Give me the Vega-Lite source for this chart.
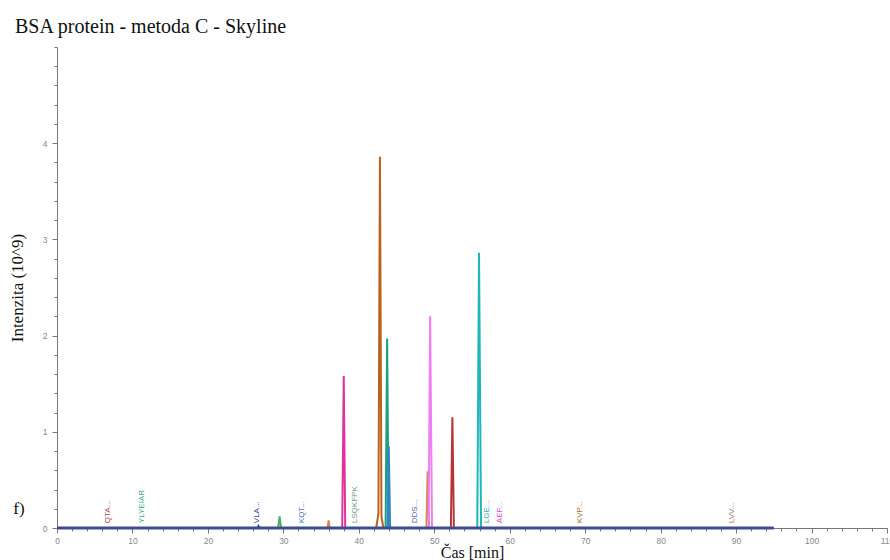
{
  "$schema": "https://vega.github.io/schema/vega-lite/v6.json",
  "width": 830,
  "height": 481,
  "autosize": "none",
  "padding": {"left": 57, "top": 47, "right": 3, "bottom": 32},
  "background": "white",
  "title": {
    "text": "BSA protein - metoda C - Skyline",
    "anchor": "start",
    "frame": "group",
    "font": "Liberation Serif",
    "fontSize": 20,
    "fontWeight": "normal",
    "color": "#111",
    "dx": -42,
    "offset": 10
  },
  "config": {
    "view": {"stroke": null},
    "axis": {"grid": false, "labelFont": "Liberation Sans", "labelFontSize": 8.5, "labelColor": "#888", "domainColor": "#777", "tickColor": "#777"}
  },
  "datasets": {
    "peaks": [
      {"p": "p11", "t": 26.55, "v": 0}, {"p": "p11", "t": 26.7, "v": 0.02}, {"p": "p11", "t": 26.85, "v": 0},
      {"p": "p10", "t": 29.3, "v": 0}, {"p": "p10", "t": 29.5, "v": 0.12}, {"p": "p10", "t": 29.7, "v": 0},
      {"p": "p9", "t": 35.85, "v": 0}, {"p": "p9", "t": 36.0, "v": 0.08}, {"p": "p9", "t": 36.15, "v": 0},
      {"p": "p1", "t": 37.8, "v": 0}, {"p": "p1", "t": 38.0, "v": 1.58}, {"p": "p1", "t": 38.2, "v": 0},
      {"p": "p2", "t": 42.3, "v": 0}, {"p": "p2", "t": 42.6, "v": 0.15}, {"p": "p2", "t": 42.8, "v": 3.86}, {"p": "p2", "t": 43.0, "v": 0.12}, {"p": "p2", "t": 43.25, "v": 0},
      {"p": "p3", "t": 43.55, "v": 0}, {"p": "p3", "t": 43.75, "v": 1.97}, {"p": "p3", "t": 43.95, "v": 0},
      {"p": "p4", "t": 43.8, "v": 0}, {"p": "p4", "t": 43.97, "v": 0.85}, {"p": "p4", "t": 44.15, "v": 0},
      {"p": "p5", "t": 48.95, "v": 0}, {"p": "p5", "t": 49.12, "v": 0.59}, {"p": "p5", "t": 49.3, "v": 0},
      {"p": "p6", "t": 49.25, "v": 0}, {"p": "p6", "t": 49.45, "v": 2.2}, {"p": "p6", "t": 49.7, "v": 0},
      {"p": "p7", "t": 52.2, "v": 0}, {"p": "p7", "t": 52.4, "v": 1.15}, {"p": "p7", "t": 52.6, "v": 0},
      {"p": "p8", "t": 55.7, "v": 0}, {"p": "p8", "t": 55.93, "v": 2.86}, {"p": "p8", "t": 56.2, "v": 0}
    ],
    "labels": [
      {"lab": "QTA...", "t": 6.8, "c": "QTA"},
      {"lab": "YLYEIAR", "t": 11.3, "c": "YLY"},
      {"lab": "VLA...", "t": 26.5, "c": "VLA"},
      {"lab": "KQT...", "t": 32.5, "c": "KQT"},
      {"lab": "LSQKFPK", "t": 39.5, "c": "LSQ"},
      {"lab": "DDS...", "t": 47.4, "c": "DDS"},
      {"lab": "LGE...", "t": 57.0, "c": "LGE"},
      {"lab": "AEF...", "t": 58.7, "c": "AEF"},
      {"lab": "KVP...", "t": 69.3, "c": "KVP"},
      {"lab": "LVV...", "t": 89.5, "c": "LVV"}
    ],
    "base": [{"t": 0, "v": 0}, {"t": 95, "v": 0}],
    "panel": [{"lab": "f)", "t": -5.8, "v": 0.2}]
  },
  "resolve": {"axis": {"x": "independent", "y": "independent"}, "scale": {"color": "independent"}},
  "layer": [
    {
      "data": {"name": "base"},
      "mark": {"type": "line", "strokeWidth": 0, "opacity": 0},
      "encoding": {
        "x": {"field": "t", "type": "quantitative", "scale": {"domain": [0, 110], "nice": false},
          "axis": {"orient": "bottom", "values": [0,2,4,6,8,10,12,14,16,18,20,22,24,26,28,30,32,34,36,38,40,42,44,46,48,50,52,54,56,58,60,62,64,66,68,70,72,74,76,78,80,82,84,86,88,90,92,94,96,98,100,102,104,106,108,110], "labels": false, "tickSize": 3, "domain": false, "title": null}},
        "y": {"field": "v", "type": "quantitative", "scale": {"domain": [0, 5], "nice": false},
          "axis": {"orient": "left", "values": [0,0.2,0.4,0.6,0.8,1,1.2,1.4,1.6,1.8,2,2.2,2.4,2.6,2.8,3,3.2,3.4,3.6,3.8,4,4.2,4.4,4.6,4.8,5], "labels": false, "tickSize": 3, "domain": false, "title": null}}
      }
    },
    {
      "data": {"name": "base"},
      "mark": {"type": "line", "strokeWidth": 0, "opacity": 0},
      "encoding": {
        "x": {"field": "t", "type": "quantitative", "scale": {"domain": [0, 110], "nice": false},
          "axis": {"orient": "bottom", "values": [0,10,20,30,40,50,60,70,80,90,100,110], "tickSize": 5, "labelPadding": 3, "labelFlush": false,
            "title": "Čas [min]", "titleFont": "Liberation Serif", "titleFontSize": 16, "titleFontWeight": "normal", "titleColor": "#111", "titlePadding": 0}},
        "y": {"field": "v", "type": "quantitative", "scale": {"domain": [0, 5], "nice": false},
          "axis": {"orient": "left", "values": [0,1,2,3,4], "tickSize": 5, "labelPadding": 5,
            "title": "Intenzita (10^9)", "titleFont": "Liberation Serif", "titleFontSize": 17, "titleFontWeight": "normal", "titleColor": "#111", "titlePadding": 16}}
      }
    },
    {
      "data": {"name": "peaks"},
      "mark": {"type": "line", "strokeWidth": 2, "interpolate": "linear"},
      "encoding": {
        "x": {"field": "t", "type": "quantitative", "scale": {"domain": [0, 110], "nice": false}, "axis": null},
        "y": {"field": "v", "type": "quantitative", "scale": {"domain": [0, 5], "nice": false}, "axis": null},
        "color": {"field": "p", "type": "nominal", "legend": null,
          "scale": {"domain": ["p1","p2","p3","p4","p5","p6","p7","p8","p9","p10","p11"],
            "range": ["#e0329e","#b8621c","#1fa07c","#2f86c8","#d08a5c","#f07ef0","#b83434","#1fb6ba","#e07e4e","#4fae66","#3a3a9a"]}}
      }
    },
    {
      "data": {"name": "base"},
      "mark": {"type": "line", "strokeWidth": 3, "color": "#3e4c8e"},
      "encoding": {
        "x": {"field": "t", "type": "quantitative", "scale": {"domain": [0, 110], "nice": false}, "axis": null},
        "y": {"field": "v", "type": "quantitative", "scale": {"domain": [0, 5], "nice": false}, "axis": null}
      }
    },
    {
      "data": {"name": "labels"},
      "mark": {"type": "text", "angle": 270, "align": "left", "baseline": "middle", "font": "Liberation Sans", "fontSize": 8},
      "encoding": {
        "x": {"field": "t", "type": "quantitative", "scale": {"domain": [0, 110], "nice": false}, "axis": null},
        "y": {"datum": 0.05, "type": "quantitative", "scale": {"domain": [0, 5], "nice": false}, "axis": null},
        "text": {"field": "lab"},
        "color": {"field": "c", "type": "nominal", "legend": null,
          "scale": {"domain": ["QTA","YLY","VLA","KQT","LSQ","DDS","LGE","AEF","KVP","LVV"],
            "range": ["#a84a48","#3aa88c","#3c3c9c","#5078c0","#7a9a82","#5a64aa","#2aaeb0","#d044c4","#a06a36","#a8705a"]}}
      }
    },
    {
      "data": {"name": "panel"},
      "mark": {"type": "text", "align": "left", "baseline": "middle", "font": "Liberation Serif", "fontSize": 17, "color": "#111"},
      "encoding": {
        "x": {"field": "t", "type": "quantitative", "scale": {"domain": [0, 110], "nice": false}, "axis": null},
        "y": {"field": "v", "type": "quantitative", "scale": {"domain": [0, 5], "nice": false}, "axis": null},
        "text": {"field": "lab"}
      }
    }
  ]
}
